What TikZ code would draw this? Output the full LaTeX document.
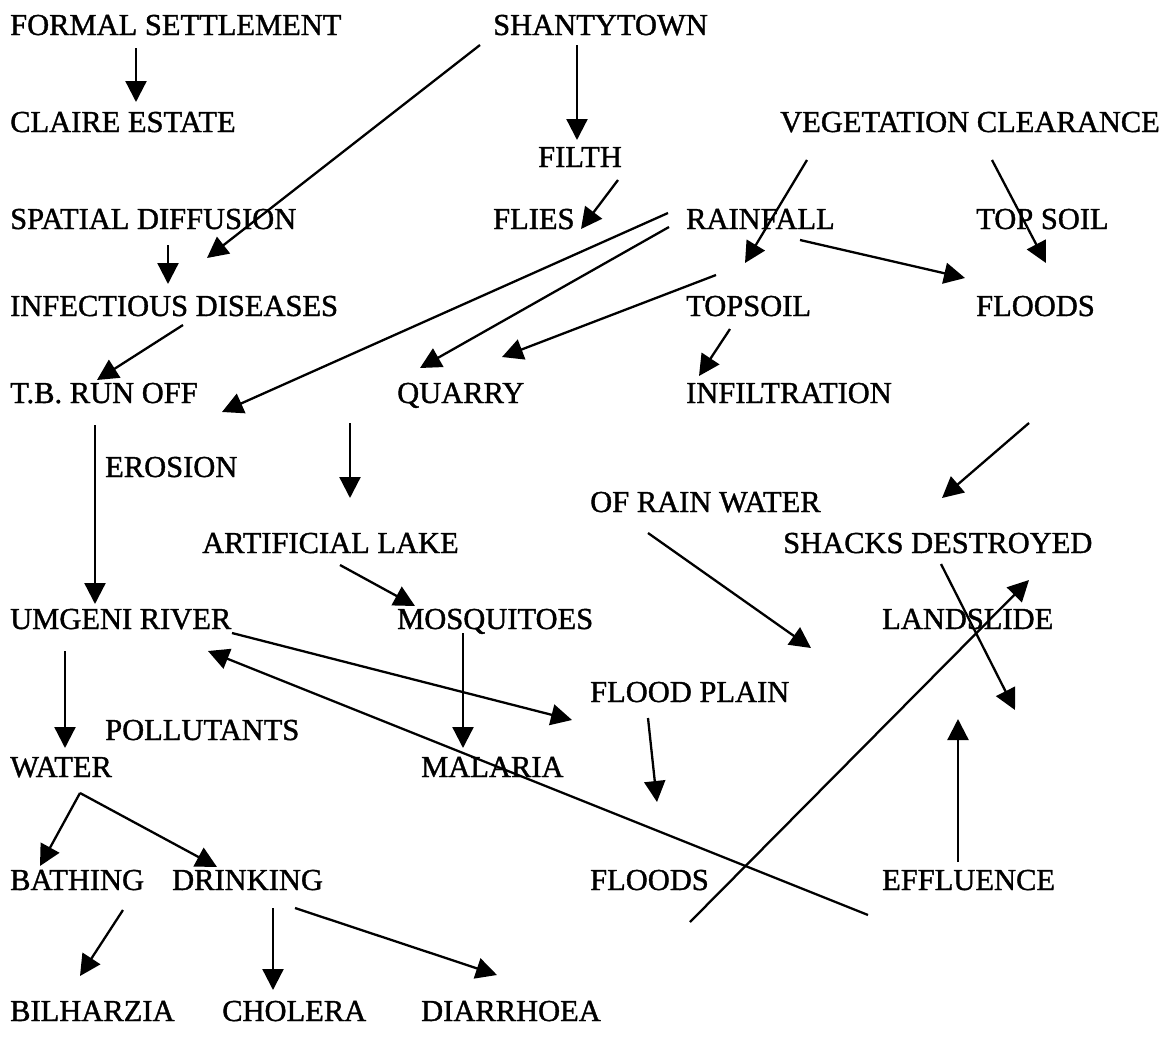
\documentclass[tikz,border=0pt]{standalone}
\usepackage{fontspec}
\setmainfont{Liberation Serif}[FakeBold=1.2]
\usetikzlibrary{arrows.meta,calc}

\begin{document}
\begin{tikzpicture}[
    x=1pt, y=-1pt,
    font=\fontsize{30.5}{36}\selectfont,
    lbl/.style={anchor=base west, inner sep=0pt},
    arr/.style={-{Triangle[length=21pt,width=21pt]}, line width=2.3pt}
]
\useasboundingbox (0,0) rectangle (1165,1042);

% labels, placed at their baselines
\node[lbl] (formal)    at (10,35)    {FORMAL SETTLEMENT};
\node[lbl] (shanty)    at (493,35)   {SHANTYTOWN};
\node[lbl] (claire)    at (10,132)   {CLAIRE ESTATE};
\node[lbl] (veget)     at (780,132)  {VEGETATION CLEARANCE};
\node[lbl] (filth)     at (538,167)  {FILTH};
\node[lbl] (spatial)   at (10,229)   {SPATIAL DIFFUSION};
\node[lbl] (flies)     at (493,229)  {FLIES};
\node[lbl] (rain)      at (686,229)  {RAINFALL};
\node[lbl] (topsoilA)  at (976,229)  {TOP SOIL};
\node[lbl] (infect)    at (10,316)   {INFECTIOUS DISEASES};
\node[lbl] (topsoil)   at (686,316)  {TOPSOIL};
\node[lbl] (floodsA)   at (976,316)  {FLOODS};
\node[lbl] (tb)        at (10,403)   {T.B. RUN OFF};
\node[lbl] (quarry)    at (397,403)  {QUARRY};
\node[lbl] (infil)     at (686,403)  {INFILTRATION};
\node[lbl] (erosion)   at (105,477)  {EROSION};
\node[lbl] (ofrain)    at (590,512)  {OF RAIN WATER};
\node[lbl] (lake)      at (202,553)  {ARTIFICIAL LAKE};
\node[lbl] (shacks)    at (783,553)  {SHACKS DESTROYED};
\node[lbl] (umgeni)    at (10,629)   {UMGENI RIVER};
\node[lbl] (mosq)      at (397,629)  {MOSQUITOES};
\node[lbl] (landslide) at (882,629)  {LANDSLIDE};
\node[lbl] (plain)     at (590,702)  {FLOOD PLAIN};
\node[lbl] (pollut)    at (105,740)  {POLLUTANTS};
\node[lbl] (water)     at (10,777)   {WATER};
\node[lbl] (malaria)   at (421,777)  {MALARIA};
\node[lbl] (bathing)   at (10,890)   {BATHING};
\node[lbl] (drinking)  at (172,890)  {DRINKING};
\node[lbl] (floodsB)   at (590,890)  {FLOODS};
\node[lbl] (effl)      at (882,890)  {EFFLUENCE};
\node[lbl] (bilh)      at (10,1021)  {BILHARZIA};
\node[lbl] (cholera)   at (222,1021) {CHOLERA};
\node[lbl] (diarr)     at (421,1021) {DIARRHOEA};

% top part
\draw[arr] ($(formal.base west)+(126,13)$) -- ($(claire.base west)+(126,-30)$);
\draw[arr] ($(shanty.base west)+(-13,10)$) -- ($(infect.base west)+(197,-58)$);
\draw[arr] ($(shanty.base west)+(84,10)$) -- ($(filth.base west)+(39,-27)$);
\draw[arr] ($(filth.base west)+(80,13)$) -- ($(flies.base west)+(88,0)$);
\draw[arr] ($(spatial.base west)+(158,16)$) -- ($(infect.base west)+(158,-32)$);
\draw[arr] ($(veget.base west)+(27,28)$) -- ($(topsoil.base west)+(59,-53)$);
\draw[arr] ($(veget.base west)+(212,28)$) -- ($(floodsA.base west)+(70,-53)$);
\draw[arr] ($(rain.base west)+(-18,-16)$) -- ($(tb.base west)+(212,9)$);
\draw[arr] ($(rain.base west)+(-17,-2)$) -- ($(quarry.base west)+(23,-35)$);
\draw[arr] ($(rain.base west)+(114,11)$) -- ($(floodsA.base west)+(-11,-38)$);
\draw[arr] ($(topsoil.base west)+(30,-41)$) -- ($(quarry.base west)+(105,-46)$);
\draw[arr] ($(topsoil.base west)+(44,13)$) -- ($(infil.base west)+(13,-27)$);
\draw[arr] ($(infect.base west)+(173,9)$) -- ($(tb.base west)+(87,-23)$);

% middle part
\draw[arr] ($(tb.base west)+(85,22)$) -- ($(umgeni.base west)+(85,-25)$);
\draw[arr] ($(quarry.base west)+(-47,20)$) -- ($(lake.base west)+(148,-55)$);
\draw[arr] ($(lake.base west)+(138,12)$) -- ($(mosq.base west)+(18,-23)$);
\draw[arr] ($(mosq.base west)+(66,4)$) -- ($(malaria.base west)+(42,-29)$);
\draw[arr] ($(umgeni.base west)+(55,22)$) -- ($(water.base west)+(55,-29)$);
\draw[arr] ($(umgeni.base west)+(222,4)$) -- ($(plain.base west)+(-18,18)$);
\draw[arr] ($(effl.base west)+(-14,25)$) -- ($(umgeni.base west)+(198,22)$);
\draw[arr] ($(floodsB.base west)+(100,32)$) -- ($(shacks.base west)+(246,27)$);
\draw[arr] ($(floodsA.base west)+(53,107)$) -- ($(shacks.base west)+(159,-55)$);
\draw[arr] ($(ofrain.base west)+(58,21)$) -- ($(plain.base west)+(221,-54)$);
\draw[arr] ($(shacks.base west)+(158,11)$) -- ($(landslide.base west)+(133,81)$);
\draw[arr] ($(plain.base west)+(58,16)$) -- ($(floodsB.base west)+(67,-88)$);
\draw[arr] ($(effl.base west)+(76,-28)$) -- ($(landslide.base west)+(76,90)$);

% bottom part
\draw[arr] ($(water.base west)+(70,16)$) -- ($(bathing.base west)+(30,-24)$);
\draw[arr] ($(water.base west)+(70,16)$) -- ($(drinking.base west)+(45,-23)$);
\draw[arr] ($(bathing.base west)+(113,20)$) -- ($(bilh.base west)+(70,-45)$);
\draw[arr] ($(drinking.base west)+(101,18)$) -- ($(cholera.base west)+(51,-31)$);
\draw[arr] ($(drinking.base west)+(123,18)$) -- ($(diarr.base west)+(76,-46)$);

\end{tikzpicture}
\end{document}
